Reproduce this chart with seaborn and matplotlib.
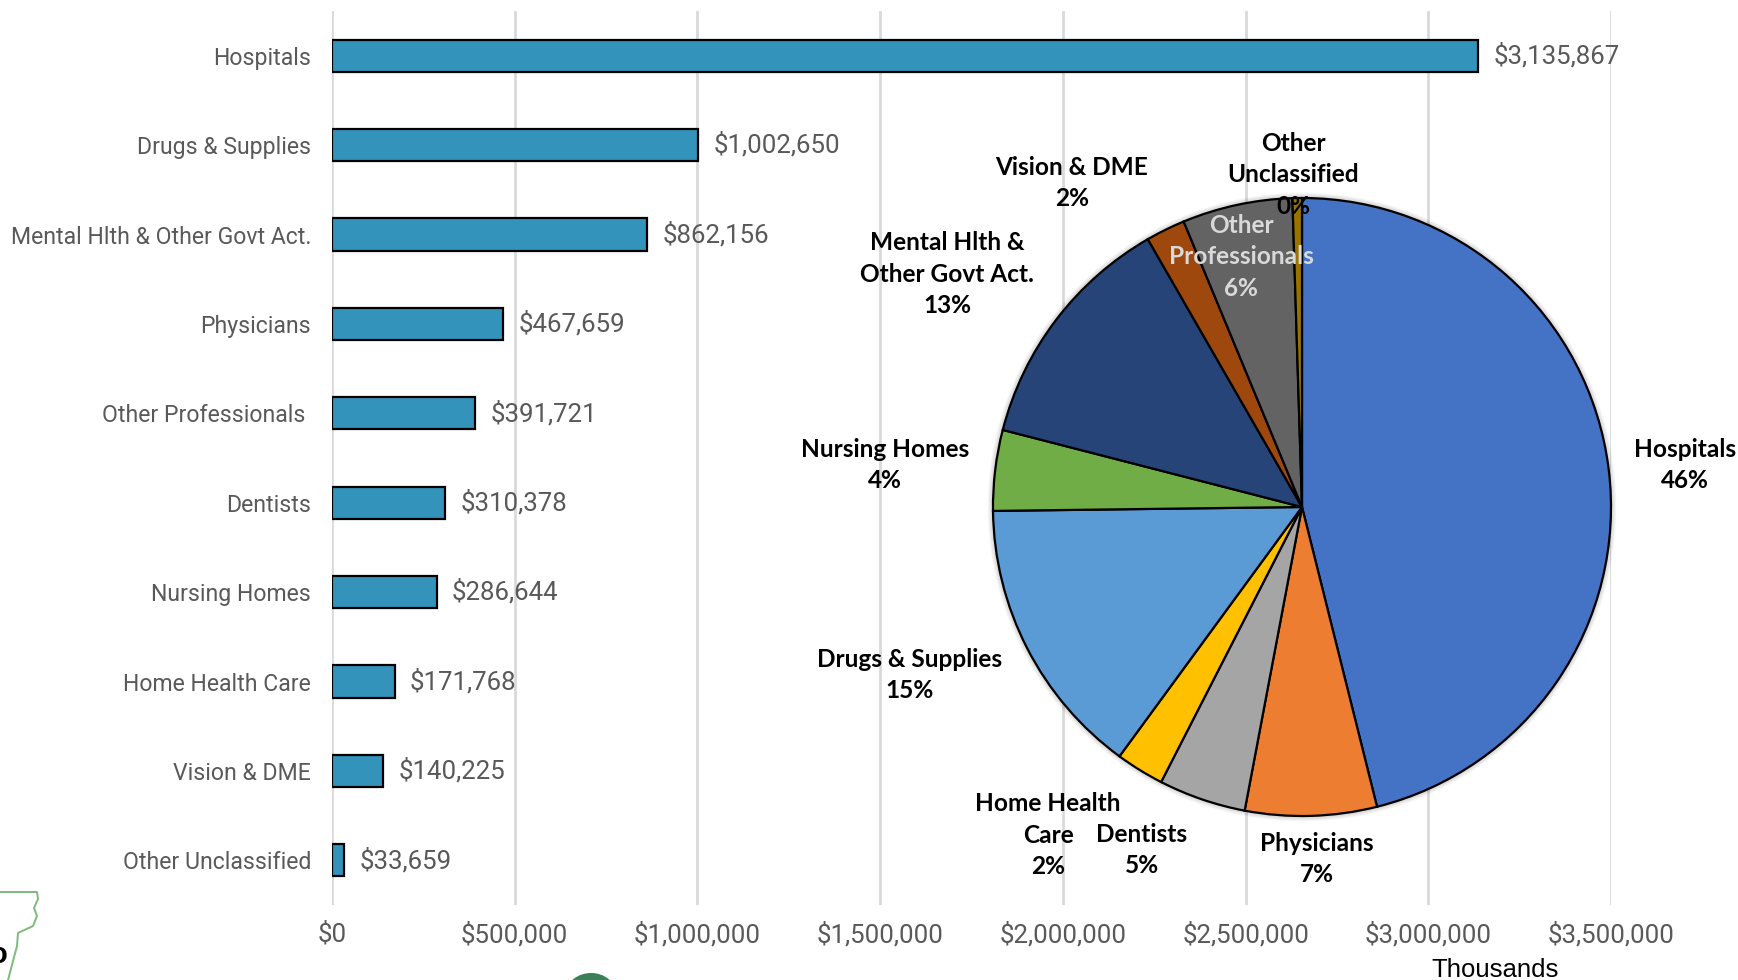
import matplotlib
matplotlib.use("Agg")
import matplotlib.pyplot as plt
from matplotlib.patches import Ellipse, Circle
from matplotlib.lines import Line2D
import seaborn as sns
import pandas as pd

bar_categories = ["Hospitals", "Drugs & Supplies", "Mental Hlth & Other Govt Act.", "Physicians",
                  "Other Professionals ", "Dentists", "Nursing Homes", "Home Health Care",
                  "Vision & DME", "Other Unclassified"]
bar_values = [3135867, 1002650, 862156, 467659, 391721, 310378, 286644, 171768, 140225, 33659]
x_ticks = [0, 500000, 1000000, 1500000, 2000000, 2500000, 3000000, 3500000]

pie_categories = ["Hospitals", "Physicians", "Dentists", "Home Health Care", "Drugs & Supplies",
                  "Nursing Homes", "Mental Hlth & Other Govt Act.", "Vision & DME",
                  "Other Professionals ", "Other Unclassified"]
pie_colors = ["#4472C4", "#ED7D31", "#A5A5A5", "#FFC000", "#5B9BD5",
              "#70AD47", "#264478", "#9E480E", "#636363", "#997300"]
pie_labels = ["Hospitals\n46%", "Physicians\n7%", "Dentists\n5%", "Home Health\nCare\n2%",
              "Drugs & Supplies\n15%", "Nursing Homes\n4%", "Mental Hlth &\nOther Govt Act.\n13%",
              "Vision & DME\n2%", "Other\nProfessionals\n6%", "Other\nUnclassified\n0%"]
pie_label_pos = [(1685, 465), (1317, 859), (1142, 850), (1048, 835), (910, 675),
                 (885, 465), (947, 274), (1072, 183), (1241, 257), (1293, 175)]
pie_label_col = ["black"] * 8 + ["#D9D9D9", "black"]

W, H = 1738, 980
sns.set_theme(style="white")
plt.rcParams["font.family"] = ["Roboto", "DejaVu Sans"]

fig = plt.figure(figsize=(W / 100, H / 100), dpi=100, facecolor="white")

def box(l, t, r, b):
    return [l / W, 1 - b / H, (r - l) / W, (b - t) / H]

ax = fig.add_axes(box(332, 11, 1611, 905))
df = pd.DataFrame({"category": bar_categories, "value": bar_values})
sns.barplot(data=df, y="category", x="value", ax=ax, color="#3393BA", saturation=1,
            width=0.36, edgecolor="black", linewidth=1.6, zorder=3)
ax.set_xlim(0, 3500000)
ax.set_ylim(9.5, -0.5)
ax.set_xticks(x_ticks)
ax.set_xticklabels([f"${v:,}" for v in x_ticks], fontsize=18.6, color="#595959")
ax.tick_params(axis="x", length=0, pad=12)
ax.tick_params(axis="y", length=0, pad=15, labelsize=16.6, labelcolor="#595959")
ax.set_xlabel("")
ax.set_ylabel("")
ax.grid(axis="x", color="#D9D9D9", linewidth=2, zorder=0)
ax.grid(axis="y", visible=False)
ax.set_axisbelow(True)
for s in ax.spines.values():
    s.set_visible(False)
for container in ax.containers:
    ax.bar_label(container, labels=[f"${v:,}" for v in bar_values], padding=11,
                 fontsize=18.6, color="#595959")

fig.text(1495 / W, 1 - 970 / H, "Thousands", fontsize=18.5, color="black", ha="center", va="center",
         family="Liberation Sans")

# pie
cx, cy, R = 1302, 507, 309
pie_values = [bar_values[bar_categories.index(c)] for c in pie_categories]
pax = fig.add_axes(box(cx - R, cy - R, cx + R, cy + R), facecolor="none")
for i in range(8, 0, -1):
    pax.add_patch(Circle((0, 0), 1 + i * 0.0022, color="black", alpha=0.022, lw=0, zorder=0, clip_on=False))
pax.pie(pie_values, colors=pie_colors, startangle=90, counterclock=False, radius=1,
        wedgeprops={"edgecolor": "black", "linewidth": 1.6})
pax.set_xlim(-1, 1)
pax.set_ylim(-1, 1)
pax.set_aspect("equal")
pax.axis("off")
for lab, (px, py), col in zip(pie_labels, pie_label_pos, pie_label_col):
    fig.text(px / W, 1 - py / H, lab, family="Lato", weight="bold", fontsize=17.6, color=col,
             ha="center", va="center", linespacing=1.46, zorder=6)

# cropped decorations at the bottom edge
fig.add_artist(Line2D([x / W for x in (0, 37, 38, 34, 37, 33, 18, 17, 8)],
                      [1 - y / H for y in (892, 892, 899, 908, 916, 926, 933, 946, 980)],
                      color="#7DBB7D", lw=1.4))
fig.text(-10 / W, 1 - 955 / H, "o", fontsize=21, weight="bold", color="black", va="center", family="Liberation Sans")
fig.add_artist(Ellipse((591 / W, 1 - 994 / H), 50 / W, 42 / H, color="#3A8058", lw=0))

fig.savefig("out.png", dpi=100)
